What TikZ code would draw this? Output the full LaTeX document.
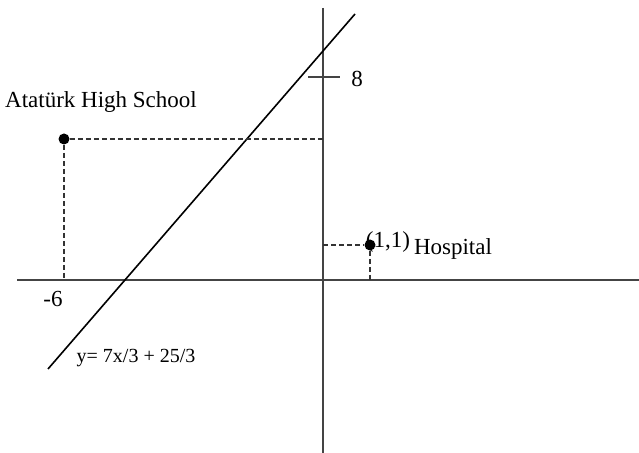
\documentclass[tikz,border=0pt]{standalone}
\usepackage{fontspec}
\setmainfont{Liberation Serif}
\usepackage{xcolor}
\definecolor{axisgray}{HTML}{444444}
\tikzset{
  axis/.style={draw=axisgray,line width=1.1pt},
  guide/.style={draw=black!80,line width=1.2pt,dash pattern=on 2.4pt off 1.6pt},
  spot/.style={circle,fill=black,inner sep=0pt,minimum size=5.5pt},
  lbl/.style={inner sep=0pt,font=\fontsize{11.5}{13}\selectfont}
}

\begin{document}
\begin{tikzpicture}[x=0.5pt,y=-0.5pt]
      \useasboundingbox (0,0) rectangle (639,453);
      % axes
      \coordinate (xl) at (17,280);
      \coordinate (xr) at (639,280);
      \coordinate (yt) at (323,8);
      \coordinate (yb) at (323,453);
      \draw [axis] (xl) -- (xr);
      \draw [axis] (yt) -- (yb);
      % tick and the line
      \coordinate (tl) at (308,77);
      \coordinate (tr) at (340,77);
      \draw [axis] (tl) -- (tr);
      \node [lbl] (E) at (357,79) {8};
      \coordinate (la) at (48,369);
      \coordinate (lb) at (355,14);
      \draw [line width=0.8pt] (la) -- (lb);
      % the two places
      \node [spot] (A) at (64,139) {};
      \node [spot] (B) at (370,245) {};
      \coordinate (Ay) at (323,139);
      \coordinate (Ax) at (64,280);
      \coordinate (By) at (323,245);
      \coordinate (Bx) at (370,280);
      \draw [guide] (A) -- (Ay);
      \draw [guide] (A) -- (Ax);
      \draw [guide] (By) -- (B);
      \draw [guide] (B) -- (Bx);
      % labels
      \node [lbl] (S) at (101,102) {Atatürk High School};
      \node [lbl] (P) at (388,242) {(1,1)};
      \node [lbl] (H) at (453,249) {Hospital};
      \node [lbl] (M) at (53,299) {-6};
      \node [lbl,font=\fontsize{10}{12}\selectfont] (Q) at (136,358) {y= 7x/3 + 25/3};
    \end{tikzpicture}
\end{document}
